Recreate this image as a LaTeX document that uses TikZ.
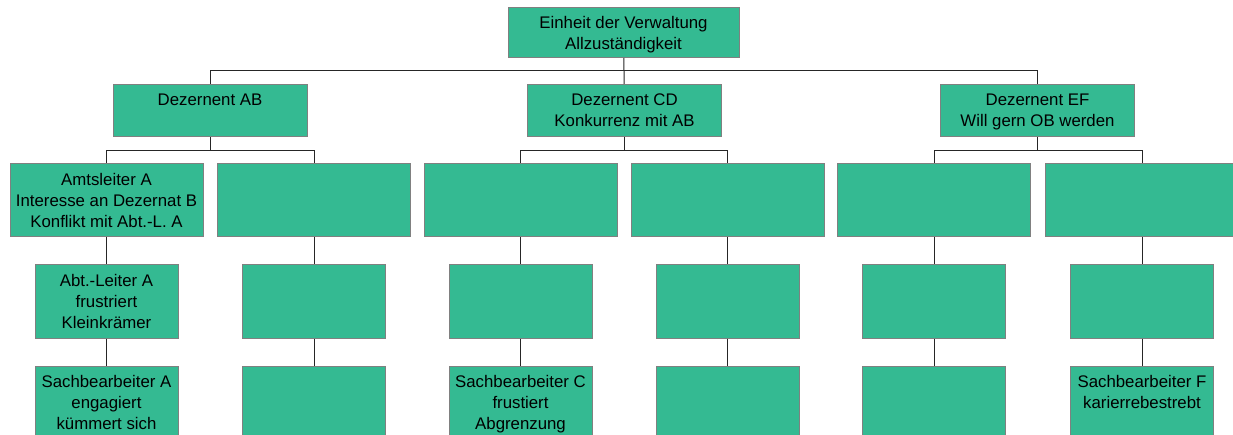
\documentclass[tikz,border=0pt]{standalone}
\usepackage{fontspec}
\setmainfont{Liberation Sans}
\usetikzlibrary{positioning,calc}
\definecolor{boxgreen}{RGB}{52,186,146}
\definecolor{boxline}{RGB}{128,128,128}

\begin{document}
\begin{tikzpicture}[
  x=1pt, y=1pt, node distance=27pt,
  font=\fontsize{16.8}{21}\selectfont,
  box/.style={draw=boxline,fill=boxgreen,line width=1pt,inner sep=0pt,minimum width=193pt,minimum height=73pt},
  small/.style={box,minimum width=143pt},
  txt/.style={anchor=north,inner sep=0pt,yshift=-10pt,align=center},
  link/.style={draw=black!85,line width=1pt}]
\useasboundingbox (0,0) rectangle (1233,-435);
% Verwaltungsspitze
\node[box,minimum width=231pt,minimum height=50pt,label={[txt,yshift=1pt]north:Einheit der Verwaltung\\Allzuständigkeit}] (top) at (623.5,-32.5) {};
% Dezernenten
\node[box,minimum width=194pt,minimum height=52.5pt,label={[txt]north:Dezernent AB}] (ab) at (210,-110.75) {};
\node[box,minimum width=194pt,minimum height=52.5pt,label={[txt]north:Dezernent CD\\Konkurrenz mit AB}] (cd) at (624.5,-110.75) {};
\node[box,minimum width=194pt,minimum height=52.5pt,label={[txt]north:Dezernent EF\\Will gern OB werden}] (ef) at (1037.5,-110.75) {};
% Amtsleiter
\node[box,label={[txt]north:Amtsleiter A\\Interesse an Dezernat B\\Konflikt mit Abt.-L. A}] (amt1) at (106.5,-200.5) {};
\node[box] (amt2) at (314,-200.5) {};
\node[box] (amt3) at (520.5,-200.5) {};
\node[box] (amt4) at (727.5,-200.5) {};
\node[box] (amt5) at (934,-200.5) {};
\node[box] (amt6) at (1142,-200.5) {};
% Abteilungsleiter
\node[small,below=of amt1,label={[txt]north:Abt.-Leiter A\\frustriert\\Kleinkrämer}] (abt1) {};
\node[small,below=of amt2] (abt2) {};
\node[small,below=of amt3] (abt3) {};
\node[small,below=of amt4] (abt4) {};
\node[small,below=of amt5] (abt5) {};
\node[small,below=of amt6] (abt6) {};
% Sachbearbeiter
\node[small,below=of abt1,label={[txt]north:Sachbearbeiter A\\engagiert\\kümmert sich}] (sb1) {};
\node[small,below=of abt2] (sb2) {};
\node[small,below=of abt3,label={[txt]north:Sachbearbeiter C\\frustiert\\Abgrenzung}] (sb3) {};
\node[small,below=of abt4] (sb4) {};
\node[small,below=of abt5] (sb5) {};
\node[small,below=of abt6,label={[txt]north:Sachbearbeiter F\\karierrebestrebt}] (sb6) {};
% Linien
\coordinate (bus) at ($(top.south)!0.5!(cd.north)$);
\draw[link] (top) -- (cd);
\draw[link] (bus) -| (ab); \draw[link] (bus) -| (ef);
\draw[link] (ab.south) -- ++(0,-13.5) -| (amt1); \draw[link] (ab.south) -- ++(0,-13.5) -| (amt2);
\draw[link] (cd.south) -- ++(0,-13.5) -| (amt3); \draw[link] (cd.south) -- ++(0,-13.5) -| (amt4);
\draw[link] (ef.south) -- ++(0,-13.5) -| (amt5); \draw[link] (ef.south) -- ++(0,-13.5) -| (amt6);
\draw[link] (amt1) -- (abt1); \draw[link] (amt2) -- (abt2); \draw[link] (amt3) -- (abt3);
\draw[link] (amt4) -- (abt4); \draw[link] (amt5) -- (abt5); \draw[link] (amt6) -- (abt6);
\draw[link] (abt1) -- (sb1); \draw[link] (abt2) -- (sb2); \draw[link] (abt3) -- (sb3);
\draw[link] (abt4) -- (sb4); \draw[link] (abt5) -- (sb5); \draw[link] (abt6) -- (sb6);
\end{tikzpicture}
\end{document}
